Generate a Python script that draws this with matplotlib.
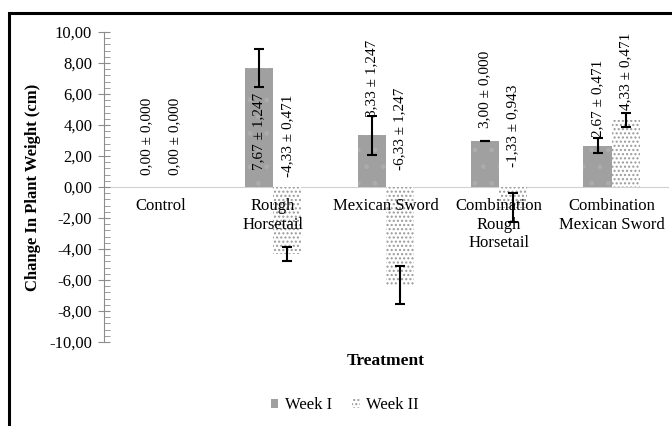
import numpy as np
import matplotlib
matplotlib.use("Agg")
import matplotlib.pyplot as plt
from matplotlib.patches import Patch, Rectangle
from matplotlib.ticker import MultipleLocator, FuncFormatter

# cambio de peso por tratamiento, semana I y semana II
tratamientos = ["Control", "Rough\nHorsetail", "Mexican Sword",
                "Combination\nRough\nHorsetail", "Combination\nMexican Sword"]
semana1 = [0.00, 7.67, 3.33, 3.00, 2.67]
err1 = [0.000, 1.247, 1.247, 0.000, 0.471]
semana2 = [0.00, -4.33, -6.33, -1.33, 4.33]
err2 = [0.000, 0.471, 1.247, 0.943, 0.471]

# altura (en cm) donde empieza cada etiqueta girada
base_et1 = [0.77, 1.1, 4.5, 3.8, 3.2]
base_et2 = [0.77, 0.65, 1.1, 1.3, 5.0]

plt.rcParams['font.family'] = ['Liberation Serif', 'DejaVu Serif']
plt.rcParams['hatch.linewidth'] = 1.0

fig = plt.figure(figsize=(6.72, 4.26), dpi=100)
ax = fig.add_axes([104/672, 1 - 342/426, 564/672, 310/426])
ax.set_axisbelow(False)

x = np.arange(len(tratamientos))
w = 0.25
gris = '#a0a0a0'

ax.bar(x - w/2, semana1, w, color=gris, edgecolor='#acacac', linewidth=0,
       hatch='.', zorder=2)
ax.bar(x + w/2, semana2, w, color='white', edgecolor='#9a9a9a', linewidth=0,
       hatch='....', zorder=2)

s1 = np.array(semana1); s2 = np.array(semana2)
m1 = s1 != 0; m2 = s2 != 0
ax.errorbar((x - w/2)[m1], s1[m1], yerr=np.array(err1)[m1], fmt='none',
            ecolor='black', elinewidth=1.5, capsize=3.5, capthick=1.5, zorder=3)
ax.errorbar((x + w/2)[m2], s2[m2], yerr=np.array(err2)[m2], fmt='none',
            ecolor='black', elinewidth=1.5, capsize=3.5, capthick=1.5, zorder=3)

def etiqueta(v, e):
    return f"{v:.2f} ± {e:.3f}".replace('.', ',')

for i in range(len(tratamientos)):
    ax.text(x[i] - w/2, base_et1[i], etiqueta(semana1[i], err1[i]),
            rotation=90, ha='center', va='bottom', fontsize=11, zorder=4)
    ax.text(x[i] + w/2, base_et2[i], etiqueta(semana2[i], err2[i]),
            rotation=90, ha='center', va='bottom', fontsize=11, zorder=4)

ax.set_xlim(-0.5, len(tratamientos) - 0.5)
ax.set_ylim(-10, 10)

# eje x pasando por el cero
ax.spines['bottom'].set_position(('data', 0))
ax.spines['bottom'].set_color('#d0d0d0')
ax.spines['bottom'].set_zorder(1)
ax.spines['top'].set_visible(False)
ax.spines['right'].set_visible(False)
ax.spines['left'].set_color('#8c8c8c')
ax.set_xticks(x)
ax.set_xticklabels(tratamientos, fontsize=12)
ax.tick_params(axis='x', length=0, pad=8)

ax.yaxis.set_major_locator(MultipleLocator(2))
ax.yaxis.set_minor_locator(MultipleLocator(0.4))
ax.yaxis.set_major_formatter(FuncFormatter(lambda v, p: f"{v:.2f}".replace('.', ',')))
ax.tick_params(axis='y', which='major', direction='inout', length=9,
               color='#8c8c8c', labelsize=12, pad=4)
ax.tick_params(axis='y', which='minor', direction='in', length=4, color='#8c8c8c')

ax.set_ylabel('Change In Plant Weight (cm)', fontsize=12, fontweight='bold', labelpad=6)
ax.set_xlabel('Treatment', fontsize=12.5, fontweight='bold')
ax.xaxis.set_label_coords(0.5, -0.035)

handles = [Patch(facecolor=gris, edgecolor='#acacac', linewidth=0, hatch='.', label='Week I'),
           Patch(facecolor='white', edgecolor='#9a9a9a', linewidth=0, hatch='....', label='Week II')]
fig.legend(handles=handles, loc='center', bbox_to_anchor=(345/672, 1 - 405/426),
           ncol=2, frameon=False, fontsize=12, handlelength=0.45, handleheight=0.45,
           handletextpad=0.4, columnspacing=1.2)

# marco exterior
fig.patches.append(Rectangle((9/672, -0.1), 1.2, 1 - 13/426 + 0.1, transform=fig.transFigure,
                             fill=False, edgecolor='black', linewidth=2.2))

fig.savefig('out.png', dpi=100)
